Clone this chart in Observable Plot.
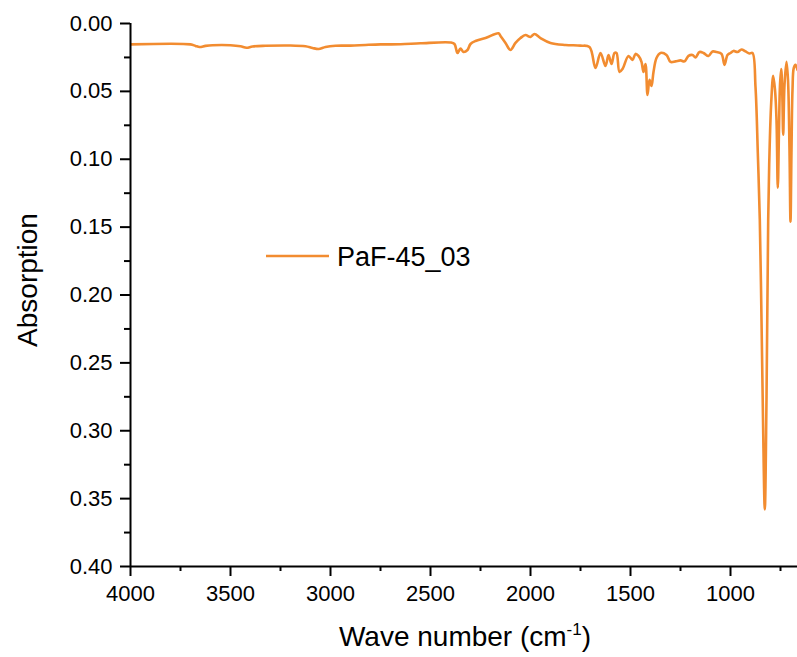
<!DOCTYPE html>
<html>
<head>
<meta charset="utf-8">
<script src="https://cdn.jsdelivr.net/npm/d3@7"></script>
<script src="https://cdn.jsdelivr.net/npm/@observablehq/plot@0.6"></script>
<style>
  html, body { margin: 0; padding: 0; background: #fff; }
  #chart svg { display: block; }
</style>
</head>
<body>
<div id="chart"></div>
<script>
// IR spectrum of sample PaF-45_03: wave number (cm^-1) and absorption
const seriesName = "PaF-45_03";
const waveNumber = [
  4000, 3700, 3675, 3655, 3625, 3590, 3500, 3450, 3420, 3390, 3325, 3200, 3125, 3090, 3060, 3025,
  2975, 2900, 2825, 2750, 2650, 2550, 2400, 2380, 2365, 2350, 2335, 2315, 2300, 2275, 2225, 2160,
  2150, 2125, 2100, 2075, 2050, 2025, 2000, 1980, 1950, 1900, 1825, 1750, 1705, 1675, 1650, 1625,
  1610, 1595, 1580, 1570, 1555, 1540, 1510, 1490, 1475, 1460, 1445, 1435, 1425, 1415, 1405, 1395,
  1385, 1370, 1350, 1320, 1300, 1275, 1250, 1230, 1210, 1190, 1175, 1155, 1135, 1110, 1090, 1070,
  1045, 1030, 1015, 1000, 985, 965, 945, 925, 905, 890, 875, 863.5, 853.5, 845, 837.5, 828.5,
  820, 811.5, 805, 796.5, 786.5, 777.5, 770, 763.5, 757.5, 752.5, 746.5, 741, 736.5, 730,
  720, 712.5, 705, 700, 695, 690, 683.5, 675, 665
];
const absorption = [
  0.0154, 0.0154, 0.0165, 0.0173, 0.0165, 0.0160, 0.0160, 0.0168, 0.0179, 0.0169, 0.0164, 0.0162, 0.0168, 0.0180, 0.0188, 0.0173,
  0.0164, 0.0163, 0.0158, 0.0154, 0.0153, 0.0146, 0.0140, 0.0151, 0.0217, 0.0184, 0.0210, 0.0195, 0.0151, 0.0129, 0.0107, 0.0072,
  0.0092, 0.0143, 0.0195, 0.0143, 0.0107, 0.0085, 0.0099, 0.0077, 0.0107, 0.0143, 0.0158, 0.0163, 0.0173, 0.0327, 0.0217, 0.0313,
  0.0232, 0.0298, 0.0217, 0.0217, 0.0357, 0.0335, 0.0239, 0.0268, 0.0224, 0.0239, 0.0283, 0.0357, 0.0298, 0.0526, 0.0415, 0.0460,
  0.0357, 0.0254, 0.0217, 0.0232, 0.0283, 0.0279, 0.0272, 0.0279, 0.0239, 0.0232, 0.0250, 0.0210, 0.0217, 0.0239, 0.0206, 0.0210,
  0.0224, 0.0305, 0.0232, 0.0217, 0.0202, 0.0210, 0.0191, 0.0206, 0.0221, 0.0217, 0.0467, 0.0952, 0.1445, 0.2180, 0.2915, 0.3580,
  0.2770, 0.1445, 0.0952, 0.0585, 0.0386, 0.0489, 0.0710, 0.1210, 0.0783, 0.0452, 0.0335, 0.0526, 0.0820, 0.0452,
  0.0283, 0.0415, 0.0930, 0.1460, 0.0930, 0.0489, 0.0327, 0.0305, 0.0342
];
const xMajorTicks = [4000, 3500, 3000, 2500, 2000, 1500, 1000];
const xMinorTicks = [3750, 3250, 2750, 2250, 1750, 1250, 750];
const yMajorTicks = [0.00, 0.05, 0.10, 0.15, 0.20, 0.25, 0.30, 0.35, 0.40];
const yMinorTicks = [0.025, 0.075, 0.125, 0.175, 0.225, 0.275, 0.325, 0.375];

const spectrum = waveNumber.map((w, i) => ({w, a: absorption[i]}));
const lineColor = "#f28c30";
const font = "'Liberation Sans', Arial, sans-serif";

const chart = Plot.plot({
  width: 797,
  height: 657,
  marginLeft: 130,
  marginRight: 0,
  marginTop: 23,
  marginBottom: 91,
  style: {fontFamily: font, fontSize: "22px", color: "#000", background: "#fff"},
  x: {domain: [4000, 665]},
  y: {domain: [0, 0.40], reverse: true},
  marks: [
    Plot.line(spectrum, {x: "w", y: "a", stroke: lineColor, strokeWidth: 2.6, curve: "catmull-rom", clip: true}),
    Plot.axisX({ticks: xMajorTicks, tickSize: 10, tickPadding: 9, strokeWidth: 2, tickFormat: d => String(d), label: null, fontSize: 22}),
    Plot.axisX({ticks: xMinorTicks, tickSize: 5, strokeWidth: 2, tickFormat: () => "", label: null}),
    Plot.axisY({ticks: yMajorTicks, tickSize: 10, tickPadding: 8, strokeWidth: 2, tickFormat: d3.format(".2f"), label: null, fontSize: 22}),
    Plot.axisY({ticks: yMinorTicks, tickSize: 6, strokeWidth: 2, tickFormat: () => "", label: null}),
    Plot.ruleY([0.40], {strokeWidth: 2}),
    Plot.ruleX([4000], {strokeWidth: 2})
  ]
});

const svg = d3.select(chart);

// Axis titles
svg.append("text")
  .attr("transform", "translate(37,280) rotate(-90)")
  .attr("text-anchor", "middle")
  .attr("font-family", font)
  .attr("font-size", 28)
  .attr("fill", "#000")
  .text("Absorption");

const xTitle = svg.append("text")
  .attr("x", 465)
  .attr("y", 646)
  .attr("text-anchor", "middle")
  .attr("font-family", font)
  .attr("font-size", 28)
  .attr("fill", "#000");
xTitle.append("tspan").text("Wave number (cm");
xTitle.append("tspan").attr("font-size", 17).attr("dy", -11).text("-1");
xTitle.append("tspan").attr("dy", 11).text(")");

// Legend
const legend = svg.append("g");
legend.append("line")
  .attr("x1", 266).attr("x2", 329).attr("y1", 256).attr("y2", 256)
  .attr("stroke", lineColor).attr("stroke-width", 2.6);
legend.append("text")
  .attr("x", 337).attr("y", 266)
  .attr("text-anchor", "start")
  .attr("font-family", font)
  .attr("font-size", 27)
  .attr("fill", "#000")
  .text(seriesName);

document.getElementById("chart").appendChild(chart);
</script>
</body>
</html>
